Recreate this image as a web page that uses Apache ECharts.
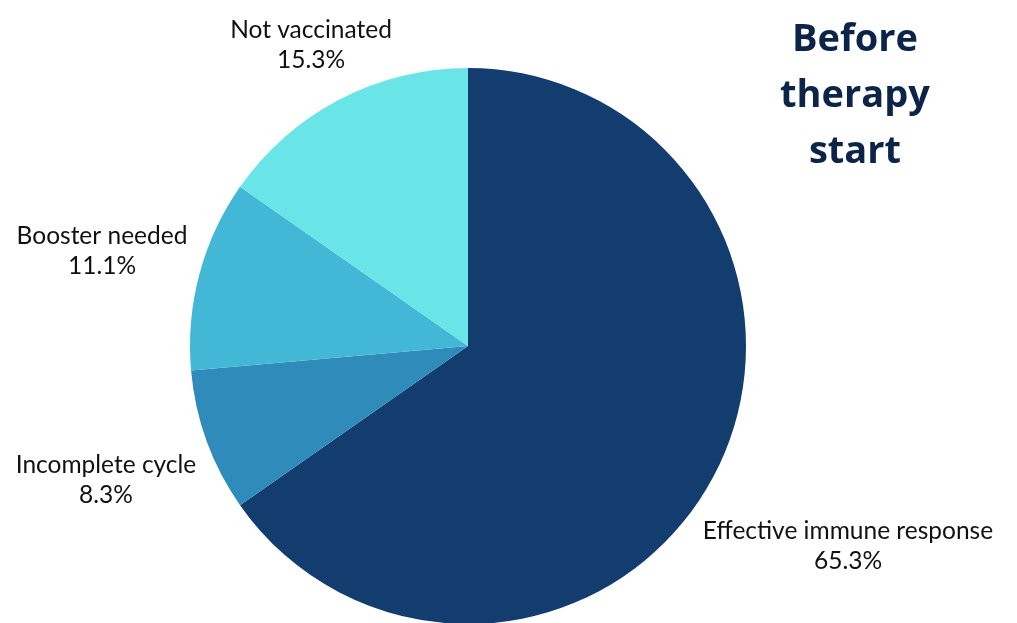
<!DOCTYPE html>
<html>
<head>
<meta charset="utf-8">
<script src="https://cdn.jsdelivr.net/npm/echarts@6/dist/echarts.min.js"></script>
<style>
html, body { margin: 0; padding: 0; background: #fff; }
#main { width: 1017px; height: 623px; }
</style>
</head>
<body>
<div id="main"></div>
<script>
// 扇区数据
var categories = ['Effective immune response', 'Incomplete cycle', 'Booster needed', 'Not vaccinated'];
var shares = [65.3, 8.3, 11.1, 15.3];
var colors = ['#133d6e', '#2e8bba', '#43b8d6', '#69e5e8'];

// label centres (px), hand placed like the original
var labelPos = [[848, 546], [106, 480], [102, 251], [311, 45]];

var chart = echarts.init(document.getElementById('main'));
var pieData = [];
for (var i = 0; i < categories.length; i++) {
    pieData.push({ name: categories[i], value: shares[i], itemStyle: { color: colors[i] } });
}

chart.setOption({
    animation: false,
    title: {
        text: 'Before\ntherapy\nstart',
        left: 850,
        top: 7,
        textAlign: 'center',
        textStyle: {
            fontFamily: 'Open Sans',
            fontWeight: 'bold',
            fontSize: 38,
            lineHeight: 56,
            color: '#0b2447'
        }
    },
    series: [{
        type: 'pie',
        center: [468, 346],
        radius: 278,
        startAngle: 90,
        clockwise: true,
        label: {
            show: true,
            position: 'outside',
            formatter: function (p) { return p.name + '\n' + p.value.toFixed(1) + '%'; },
            fontFamily: 'Lato',
            fontSize: 24.5,
            lineHeight: 30,
            color: '#111',
            align: 'center',
            overflow: 'none'
        },
        labelLine: { show: false },
        labelLayout: function (params) {
            var pos = labelPos[params.dataIndex];
            return { x: pos[0], y: pos[1], align: 'center', verticalAlign: 'middle', hideOverlap: false };
        },
        data: pieData
    }]
});
</script>
</body>
</html>
